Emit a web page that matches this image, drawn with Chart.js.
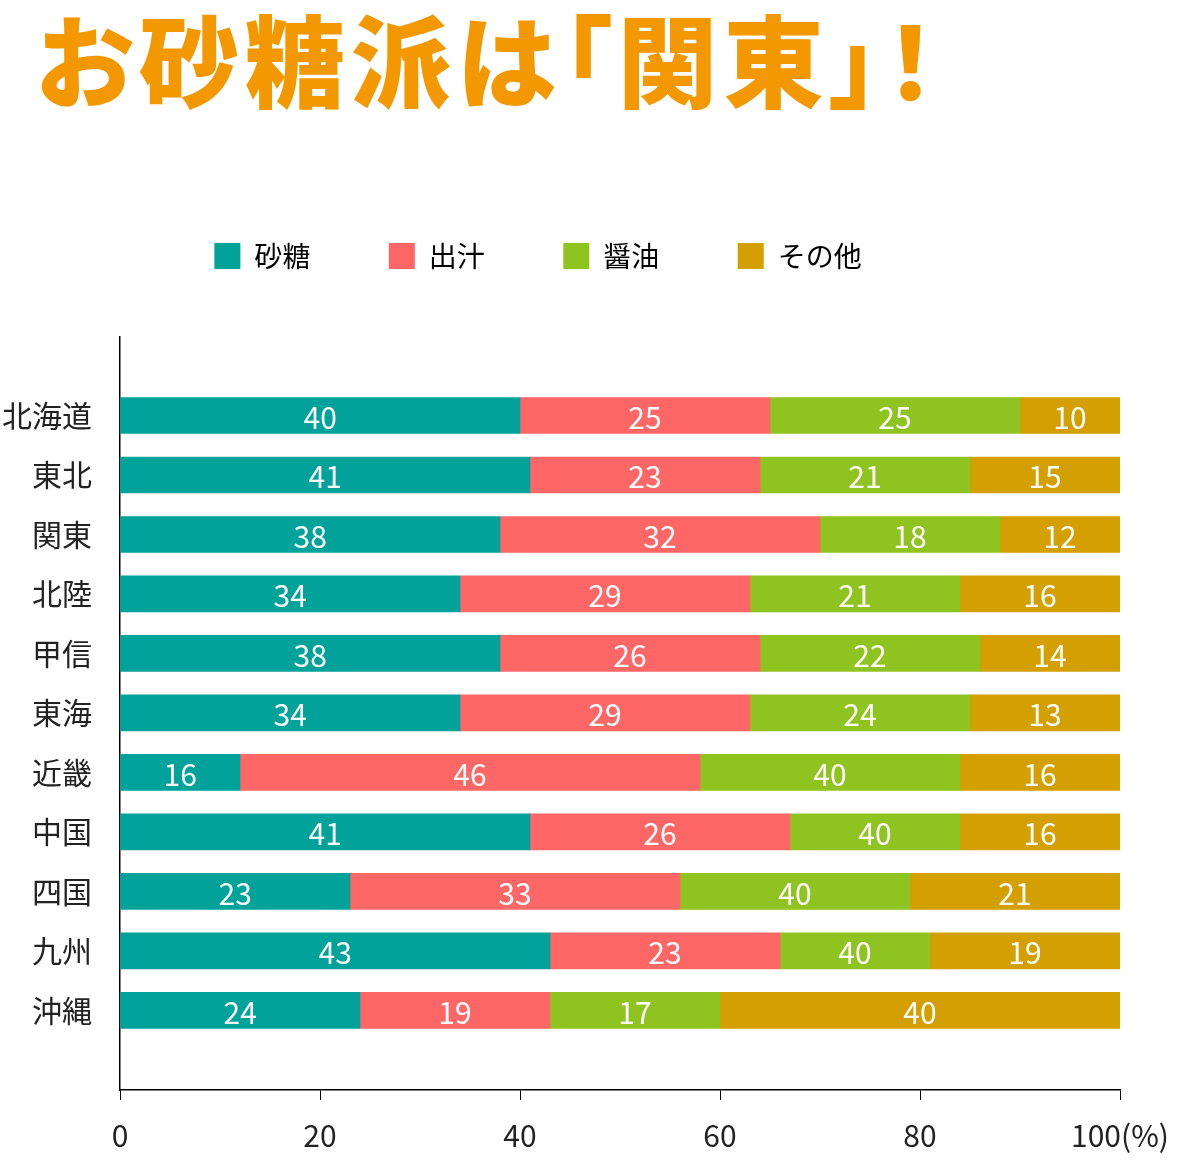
<!DOCTYPE html>
<html><head><meta charset="utf-8">
<script src="https://cdn.jsdelivr.net/npm/chart.js@4"></script>
<style>
html,body{margin:0;padding:0;background:#fff;}
#wrap{position:relative;width:1189px;height:1160px;}
#title{position:absolute;left:36px;top:-16px;font-family:"Noto Sans CJK JP";font-weight:900;font-size:100px;color:#f39800;letter-spacing:6px;white-space:nowrap;font-feature-settings:"palt";}
canvas{position:absolute;left:0;top:0;}
</style></head><body>
<div id="wrap"><div id="title">お砂糖派は「関東」！</div><canvas id="c" width="1189" height="1160"></canvas></div>
<script>
const categories=["北海道","東北","関東","北陸","甲信","東海","近畿","中国","四国","九州","沖縄"];
const seriesNames=["砂糖","出汁","醤油","その他"];
const sugar=[40,41,38,34,38,34,12,41,23,43,24];
const dashi=[25,23,32,29,26,29,46,26,33,23,19];
const soy=[25,21,18,21,22,22,26,17,23,15,17];
const other=[10,15,12,16,14,15,16,16,21,19,40];
const sugarLbl=[40,41,38,34,38,34,16,41,23,43,24];
const dashiLbl=[25,23,32,29,26,29,46,26,33,23,19];
const soyLbl=[25,21,18,21,22,24,40,40,40,40,17];
const otherLbl=[10,15,12,16,14,13,16,16,21,19,40];
const xTicks=[0,20,40,60,80,100];
const colors=["#00a29a","#ff6666","#8fc31f","#d49f00"];
const F='"Noto Sans CJK JP"';
const vals=[sugar,dashi,soy,other], lbls=[sugarLbl,dashiLbl,soyLbl,otherLbl];
const datasets=vals.map((v,i)=>({label:seriesNames[i],data:v.map((x,j)=>({x:x,y:j})),backgroundColor:colors[i],barThickness:36,borderWidth:0,lbl:lbls[i]}));
const legendPad={id:'lp',afterInit(c){const f=c.legend.fit;c.legend.fit=function(){f.call(this);this.height+=57;};}};
const segLabels={id:'sl',afterDatasetsDraw(c){const ctx=c.ctx;ctx.save();ctx.fillStyle='#fff';ctx.font='30px '+F;ctx.textAlign='center';ctx.textBaseline='middle';
c.data.datasets.forEach((d,i)=>{c.getDatasetMeta(i).data.forEach((el,j)=>{ctx.fillText(String(d.lbl[j]),(el.base+el.x)/2,el.y+2);});});ctx.restore();}};
new Chart(document.getElementById('c'),{type:'bar',data:{datasets},
options:{responsive:false,animation:false,indexAxis:'y',
layout:{padding:{top:220,right:69,left:0,bottom:0}},
plugins:{legend:{position:'top',labels:{font:{family:F,size:28},color:'#222',boxWidth:26,boxHeight:26,padding:22,generateLabels(c){return c.data.datasets.map((d,i)=>({text:d.label+(d.label.length===3?'       ':'         '),fillStyle:d.backgroundColor,strokeStyle:d.backgroundColor,lineWidth:0,datasetIndex:i}));}}},tooltip:{enabled:false}},
scales:{
x:{type:'linear',stacked:true,min:0,max:100,afterBuildTicks(s){s.ticks=xTicks.map(v=>({value:v}));},afterFit(s){s.height=70;},
ticks:{font:{family:F,size:30},color:'#222',padding:18,maxRotation:0,callback:v=>v===100?'100(%)':String(v)},
grid:{drawOnChartArea:false,tickLength:10,color:'#000'},border:{color:'#000',width:1.5}},
y:{type:'linear',stacked:true,reverse:true,offset:false,min:-1.32,max:11.34,afterBuildTicks(s){s.ticks=categories.map((_,i)=>({value:i}));},afterFit(s){s.width=120;},
ticks:{font:{family:F,size:30},color:'#222',padding:20,callback:v=>categories[v]},
grid:{display:false,offset:false},border:{color:'#000',width:1.5}}}},
plugins:[legendPad,segLabels]});
</script></body></html>
